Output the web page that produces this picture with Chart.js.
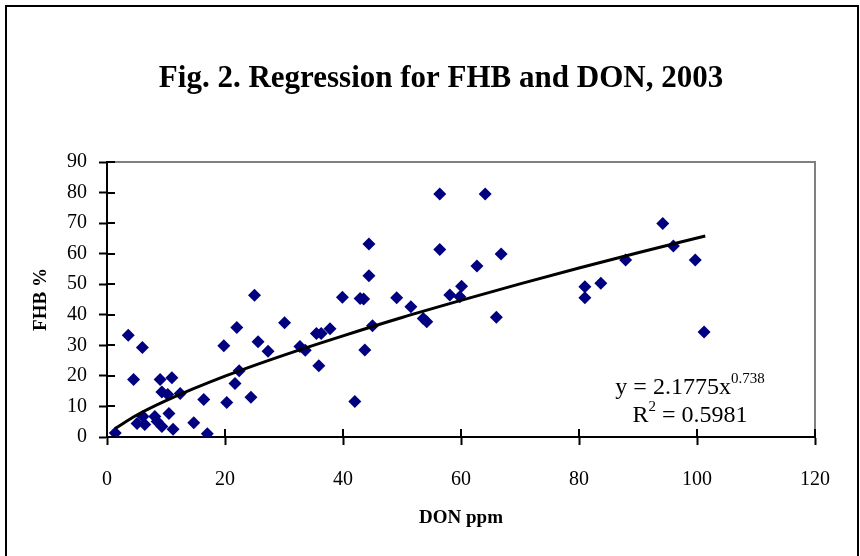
<!DOCTYPE html>
<html>
<head>
<meta charset="utf-8">
<script src="https://cdn.jsdelivr.net/npm/chart.js@4"></script>
<style>
    html, body { margin: 0; padding: 0; background: #fff; }
    #wrap { width: 860px; height: 556px; }
</style>
</head>
<body>
<div id="wrap"><canvas id="fhb-don-chart" width="860" height="556"></canvas></div>
<script>
// DON (ppm) and FHB (%) per plot
const donPpm = [
    1.4, 3.6, 6.0, 4.5, 9.0, 11.0, 9.3, 10.3, 12.4, 5.1,
    6.1, 6.4, 8.1, 8.5, 9.3, 10.5, 11.2, 14.7, 17.0, 16.4,
    19.8, 20.3, 22.0, 25.0, 21.7, 22.4, 24.4, 25.6, 27.3, 30.1,
    32.7, 33.6, 35.5, 36.3, 37.8, 35.9, 39.9, 42.9, 43.5, 43.7,
    45.0, 42.0, 44.4, 44.4, 56.4, 64.1, 56.4, 66.8, 62.7, 49.1,
    51.5, 53.6, 54.2, 58.1, 59.8, 60.1, 66.0, 81.0, 81.0, 83.7,
    87.9, 94.2, 96.0, 99.7, 101.2
];
const fhbPct = [
    1.3, 33.3, 29.3, 18.8, 18.8, 19.4, 14.7, 13.9, 14.2, 4.4,
    6.7, 4.1, 6.7, 5.1, 3.4, 7.7, 2.5, 4.7, 1.1, 12.3,
    29.9, 11.3, 35.8, 46.4, 17.5, 21.7, 13.0, 31.2, 28.1, 37.4,
    29.6, 28.4, 33.9, 33.9, 35.4, 23.3, 45.7, 45.3, 45.2, 28.5,
    36.4, 11.6, 63.2, 52.8, 79.5, 79.5, 61.4, 59.9, 56.0, 45.6,
    42.6, 38.8, 37.7, 46.5, 45.9, 49.3, 39.2, 49.2, 45.6, 50.3,
    57.9, 69.9, 62.5, 57.9, 34.4
];

// power trendline as drawn (y = 2.1775x^0.738)
const trendX = [1.4, 5, 10, 20, 30, 40, 50, 60, 70, 80, 90, 101.4];
const trendY = [2.8, 7.1, 11.9, 19.9, 26.8, 33.1, 39.1, 44.7, 50.1, 55.3, 60.3, 65.8];

const xTicks = [0, 20, 40, 60, 80, 100, 120];
const yTicks = [0, 10, 20, 30, 40, 50, 60, 70, 80, 90];

const titleText = 'Fig. 2. Regression for FHB and DON, 2003';

const serif = "'Liberation Serif', 'Times New Roman', serif";

// frame, title, gray plot border, inner half of the cross tick marks, equation
const decorations = {
    id: 'decorations',
    afterDraw(chart) {
        const ctx = chart.ctx;
        const area = chart.chartArea;
        const xs = chart.scales.x, ys = chart.scales.y;
        ctx.save();

        ctx.strokeStyle = '#808080';
        ctx.lineWidth = 2;
        ctx.beginPath();
        ctx.moveTo(area.left, area.top);
        ctx.lineTo(area.right, area.top);
        ctx.lineTo(area.right, area.bottom);
        ctx.stroke();

        ctx.strokeStyle = '#000';
        ctx.lineWidth = 2;
        ctx.beginPath();
        xTicks.forEach(v => {
            const px = Math.round(xs.getPixelForValue(v));
            ctx.moveTo(px, area.bottom);
            ctx.lineTo(px, area.bottom - 8);
        });
        yTicks.forEach(v => {
            const py = Math.round(ys.getPixelForValue(v));
            ctx.moveTo(area.left, py);
            ctx.lineTo(area.left + 8, py);
        });
        ctx.stroke();

        ctx.strokeRect(6, 6, 852, 600);

        ctx.fillStyle = '#000';
        ctx.textAlign = 'center';
        ctx.textBaseline = 'middle';
        ctx.font = 'bold 31px ' + serif;
        ctx.fillText(titleText, 441, 79);

        // equation text
        ctx.textBaseline = 'alphabetic';
        ctx.textAlign = 'left';
        const cx = 690;
        const big = '24px ' + serif, small = '15px ' + serif;

        ctx.font = big;
        const a = 'y = 2.1775x';
        const wa = ctx.measureText(a).width;
        ctx.font = small;
        const sa = '0.738';
        const wsa = ctx.measureText(sa).width;
        let x0 = cx - (wa + wsa) / 2;
        ctx.font = big;
        ctx.fillText(a, x0, 394);
        ctx.font = small;
        ctx.fillText(sa, x0 + wa, 383);

        ctx.font = big;
        const r1 = 'R', r2 = ' = 0.5981';
        const w1 = ctx.measureText(r1).width, w2 = ctx.measureText(r2).width;
        ctx.font = small;
        const ws = ctx.measureText('2').width;
        x0 = cx - (w1 + ws + w2) / 2;
        ctx.font = big;
        ctx.fillText(r1, x0, 422);
        ctx.font = small;
        ctx.fillText('2', x0 + w1, 411);
        ctx.font = big;
        ctx.fillText(r2, x0 + w1 + ws, 422);

        ctx.restore();
    }
};

const config = {
    type: 'scatter',
    data: {
        datasets: [
            {
                label: 'FHB vs DON',
                data: donPpm.map((d, i) => ({ x: d, y: fhbPct[i] })),
                pointStyle: 'rectRot',
                pointRadius: 6.5,
                pointHoverRadius: 6.5,
                backgroundColor: '#000080',
                borderColor: '#000080',
                borderWidth: 0,
                order: 2,
            },
            {
                label: 'Power trend',
                type: 'line',
                data: trendX.map((d, i) => ({ x: d, y: trendY[i] })),
                borderColor: '#000',
                borderWidth: 3,
                pointRadius: 0,
                cubicInterpolationMode: 'monotone',
                fill: false,
                order: 1,
            },
        ]
    },
    options: {
        responsive: false,
        animation: false,
        layout: {
            padding: { left: 0, right: 45, top: 162, bottom: 0 },
        },
        scales: {
            x: {
                type: 'linear',
                min: 0,
                max: 120,
                afterBuildTicks: scale => { scale.ticks = xTicks.map(v => ({ value: v })); },
                afterFit: scale => { scale.height = 119; },
                ticks: {
                    color: '#000',
                    padding: 23,
                    font: { family: serif, size: 20 },
                },
                grid: {
                    drawOnChartArea: false,
                    tickLength: 8,
                    tickWidth: 2,
                    color: '#000',
                },
                border: { color: '#000', width: 2 },
                title: {
                    display: true,
                    text: 'DON ppm',
                    color: '#000',
                    font: { family: serif, size: 19, weight: 'bold' },
                    padding: { top: 0, bottom: 27 },
                },
            },
            y: {
                type: 'linear',
                min: 0,
                max: 90,
                afterBuildTicks: scale => { scale.ticks = yTicks.map(v => ({ value: v })); },
                afterFit: scale => { scale.width = 107; },
                ticks: {
                    color: '#000',
                    padding: 12,
                    font: { family: serif, size: 20 },
                },
                grid: {
                    drawOnChartArea: false,
                    tickLength: 8,
                    tickWidth: 2,
                    color: '#000',
                },
                border: { color: '#000', width: 2 },
                title: {
                    display: true,
                    text: 'FHB %',
                    color: '#000',
                    font: { family: serif, size: 19, weight: 'bold' },
                    padding: { top: 30, bottom: 0 },
                },
            },
        },
        plugins: {
            legend: { display: false },
            tooltip: { enabled: false },
            title: { display: false },
        },
    },
    plugins: [decorations],
};

new Chart(document.getElementById('fhb-don-chart'), config);
</script>
</body>
</html>
